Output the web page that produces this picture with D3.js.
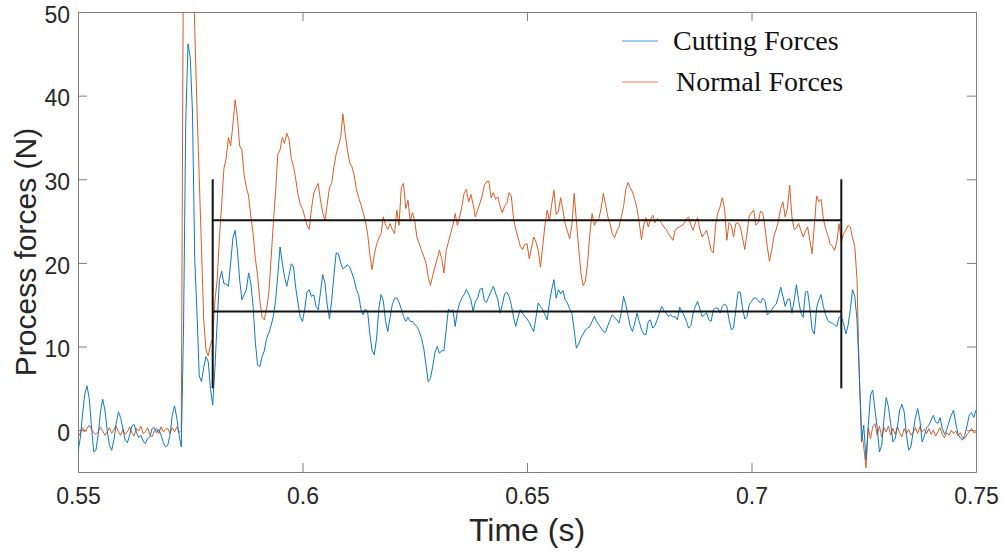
<!DOCTYPE html>
<html>
<head>
<meta charset="utf-8">
<title>Process forces</title>
<style>
  body { margin: 0; background: #fff; }
  svg text { font-family: "Liberation Sans", Arial, sans-serif; fill: #262626; }
  .legend text { font-family: "Liberation Serif", "Times New Roman", serif; fill: #111; }
</style>
</head>
<body>
<svg id="chart" width="1003" height="554"></svg>
<script src="https://cdn.jsdelivr.net/npm/d3@7"></script>
<script>
// sampling of both signals: t = t0 + i * dt
var t0 = 0.55
var dt = 0.0005

var cutting = [
  -2.5, -1.0, 1.8, 4.3, 5.3, 3.8, 0.5, -2.6, -2.4, -0.5, 2.2, 3.7, 2.4, 0, -1.8, -2.4, -1.2, 0.8, 2.2, 1.5,
  0.2, -1.2, -1.5, -0.6, 0.5, 0.7, -0.2, -0.9, -0.6, -1.3, -1.6, -1.0, -0.8, 0.2, 0.3, -0.3, 0.1, -0.6, -1.5, -2.0,
  -1.8, -0.5, 1.8, 2.9, 1.5, -0.5, -2.0, 12, 37, 46.2, 44.5, 38, 20.5, 14, 6.5, 5.8, 7.5, 8.8, 8.2, 5,
  3.0, 7.5, 13, 18, 19, 17.5, 17.5, 17.2, 20, 23, 23.9, 21.5, 18, 15.6, 16.2, 16.8, 18.8, 17.5, 14.8, 10.5,
  7.8, 7.6, 8.8, 9.5, 11, 11.6, 12.5, 13.6, 15.5, 18.5, 21.9, 20, 18.3, 17.2, 18.5, 19.9, 19.5, 17, 15.2, 13.5,
  13, 14.5, 16.5, 16.8, 16, 16.2, 14.8, 14.4, 16.5, 18.6, 17.6, 15, 13.3, 15.5, 18.5, 21.2, 21.1, 20, 19.3, 19.5,
  19.8, 19.5, 18.8, 18, 16.8, 16.2, 14.5, 13.8, 14.5, 14.2, 11.5, 9.5, 9.0, 11, 14.5, 16.2, 15.5, 13, 11.8, 13.5,
  15, 15.8, 15.8, 15.3, 14.5, 13.6, 13, 13.5, 13, 13, 12.6, 12.4, 11.8, 11, 9.8, 7.8, 5.8, 6.2, 7.6, 9.3,
  10, 9.2, 9.5, 9.5, 12, 14.5, 14.2, 14.4, 12.4, 14.2, 15.2, 15.8, 16.2, 16.8, 16.3, 15.6, 14.2, 15.4, 15.8, 16.8,
  17, 15.5, 15.3, 16, 16.6, 17.2, 16.4, 15.6, 14, 15, 16.3, 16.5, 16, 15, 13.5, 12.4, 13.5, 14.4, 14, 13.6,
  13.3, 12.9, 12.3, 11.8, 13.5, 15.2, 14.8, 14.4, 13.8, 13.2, 15.3, 16.8, 18, 15.8, 16.8, 16.3, 16.7, 15.6, 15.2, 14.5,
  14, 12, 9.8, 10.3, 11, 11.5, 12, 12.2, 12.4, 13, 13.6, 13, 12.6, 12.2, 11.8, 11.7, 12.5, 13.2, 13.8, 13.5,
  13.2, 12.8, 14, 16, 15, 13.7, 12.4, 11.8, 12.8, 14, 13, 12, 11.5, 11.4, 13, 13.2, 12.2, 12.5, 13.2, 14,
  14.8, 14.3, 14, 13.6, 13.8, 13.5, 13.6, 13.2, 14.7, 14.2, 13.7, 13, 12.2, 12.5, 14, 14.8, 15.4, 14.5, 13.6, 13.8,
  14, 13.2, 13, 14.4, 14.6, 14.6, 14, 14.8, 15.1, 14.8, 13.2, 12, 12.2, 14.4, 16.5, 16.5, 14.6, 13.3, 13.6, 15,
  15.4, 15.8, 15.8, 15.5, 15.2, 15.8, 15.5, 13.8, 14, 14.4, 14.8, 15.1, 16, 17.1, 16, 14.8, 15.6, 15.7, 14, 15.5,
  17.4, 15.5, 14, 13.5, 16.5, 16.6, 14.6, 12, 11.5, 14.6, 15.6, 16.2, 14.8, 13.8, 13.1, 12.9, 12.8, 12.6, 12.4, 13.5,
  13.6, 12.8, 11.5, 12.5, 14.4, 16.8, 16, 13.2, 7, -1.4, 0.6, -3.5, 0.4, 4.2, 4.8, 2.4, 0.3, -2.6, -1.8, 1.3,
  3.9, 2.8, 0.8, -1.4, -1.0, 0.4, 2.4, 3.1, 2.2, -0.5, -2.4, -2, -0.2, 1.5, 2.6, 1.2, -1.4, -0.7, 0.3, 0.6,
  1.2, 1.8, 1.0, 0.8, 1.5, 0.2, -0.5, 0.1, 1.0, 1.8, 2.4, 0.8, -0.5, -0.9, -1.2, -0.6, 0.5, 1.8, 2.1, 1.5,
  2.4
]

var normal = [
  -0.8, -0.4, 0.3, -0.2, 0.2, 0.6, 0.1, -0.3, -0.5, -0.2, 0.4, -0.1, -0.6, -0.2, 0.3, -0.4, 0.1, 0.5, -0.2, -0.6,
  0.1, -0.5, -0.2, 0.4, -0.3, -0.7, 0.2, -0.1, 0.5, -0.4, -0.2, 0.3, -0.5, -0.8, -0.1, 0.2, -0.4, 0.4, -0.2, 0.1,
  0.2, -0.4, 0.3, -0.2, 0.4, -0.3, 0, 60, 75, 80, 75, 62, 48, 38.5, 30.2, 21.7, 13.2, 9.6, 8.9, 10.2,
  11, 15.5, 18, 23, 27, 31.3, 32.5, 35, 34, 36.5, 39.5, 37.5, 34, 33.5, 30.5, 29, 28, 25.5, 23.5, 20.5,
  18.5, 15.5, 13.5, 13.2, 14.5, 16.4, 20.5, 24.7, 28.5, 33, 33.5, 35, 34.3, 35.5, 34.8, 32.5, 31.5, 30, 28.2, 27,
  26.5, 25.5, 24.5, 24, 26.5, 28.3, 29, 29.5, 27.5, 26, 25.1, 27, 29, 29.5, 31.5, 33, 34, 35, 37.8, 35.5,
  33.5, 32, 31.5, 30.5, 28.8, 27.8, 27, 26, 25, 23.5, 21, 19.2, 21, 22.2, 23, 23.5, 25.5, 24.5, 24, 24.7,
  24, 23.5, 26.3, 24.5, 29, 29.5, 26.5, 27.5, 25, 26, 25, 23, 22.3, 21.5, 20.8, 20, 18.3, 17.3, 18.5, 19.5,
  20.5, 21.5, 20.5, 18.8, 21.5, 22.5, 23.5, 24.5, 25.9, 24.5, 25.5, 26.8, 28.3, 28.8, 27.3, 28.2, 27, 25.5, 26.3, 27.1,
  28, 29.3, 29.7, 29.8, 27.8, 28.4, 27.6, 27.9, 26.8, 26, 26.8, 27.1, 28.4, 28, 25.3, 24, 23, 22, 21.6, 22.2,
  22.3, 20.5, 21.8, 23.1, 22.5, 21.5, 19.5, 22, 24.5, 26.3, 25, 27, 28.7, 25.8, 26.2, 27.8, 26.3, 24.7, 23.8, 22.9,
  24.5, 28.3, 25, 21.9, 18.8, 17.3, 17.8, 20, 23.5, 25.9, 24.5, 25, 25.3, 26.5, 28.3, 27, 25.5, 24.7, 23.5, 23,
  23.8, 24.3, 25.5, 26.7, 28.8, 29.6, 29, 28.5, 27.6, 26.5, 24.8, 22.8, 24.5, 25.4, 24.3, 25.2, 25.7, 24.8, 25.3, 25.1,
  24.7, 24.3, 24, 23.5, 23.1, 22.7, 23.9, 24.2, 24.3, 24.5, 24.7, 25.3, 25.5, 24.5, 23.9, 24.8, 25.4, 24, 23.1, 23.5,
  23.9, 22.8, 21.5, 21.2, 24.5, 26, 26.7, 27.8, 26.5, 22.7, 24.8, 24.5, 23.1, 24.7, 24.8, 24.3, 23, 21.6, 23.5, 25.6,
  26, 26.3, 24.5, 24.8, 26.2, 26, 24.3, 22, 20.2, 21.5, 23.2, 24, 25, 26.5, 27.3, 25.5, 26.5, 29.3, 25.5, 24,
  24.2, 24.7, 23.9, 23.1, 23.8, 24.3, 22.7, 21.1, 24.5, 28, 27.3, 27.6, 25.3, 24.1, 23.3, 22.3, 22, 21.5, 22.5, 24.7,
  22.5, 23.5, 23.9, 24.5, 24.3, 23, 22, 18, 6.5, 0.2, -2, -4.5, 0.3, -1.0, 0.4, 0.8, -0.6, 0.5, -0.8, 0.3,
  -0.2, 0.5, -0.6, 0.2, -0.5, 0.4, -0.3, -0.8, 0.2, -0.4, 0.1, -0.6, -0.3, 0.3, -0.4, 0.4, -0.2, 0.1, -0.4, 0.2,
  -0.5, 0, -0.7, -0.2, 0.3, -0.5, -0.9, -0.3, -0.6, 0, -0.4, -0.1, -0.7, -0.3, -0.9, -1.0, -0.5, -0.2, 0.2, -0.3,
  -0.2
]

var seriesNames = ['Cutting Forces', 'Normal Forces']
var xTicks = [0.55, 0.6, 0.65, 0.7, 0.75]
var yTicks = [0, 10, 20, 30, 40, 50]
// mean levels over the steady cutting window
var meanWindow = [0.58, 0.72]
var meanBracket = [5, 30]
var means = [14.2, 25.1]

var colors = ['#0072BD', '#D95319']
var width = 1003
var height = 554
var margin = {top: 12, right: 27, bottom: 82, left: 78}

var svg = d3.select('#chart')

var xScale = d3.scaleLinear()
  .domain([0.55, 0.75])
  .range([margin.left, width - margin.right])
var yScale = d3.scaleLinear()
  .domain([-5, 50])
  .range([height - margin.bottom, margin.top])

svg.append('defs').append('clipPath')
  .attr('id', 'plotClip')
  .append('rect')
  .attr('x', margin.left)
  .attr('y', margin.top)
  .attr('width', width - margin.left - margin.right)
  .attr('height', height - margin.top - margin.bottom)

function styleAxis(g) {
  g.select('.domain').attr('stroke', '#7f7f7f').attr('stroke-width', 1)
  g.selectAll('.tick line').attr('stroke', '#7f7f7f')
  g.selectAll('.tick text').attr('fill', '#262626').style('font-size', '23px')
}

// bottom / left axes with labels, ticks pointing inward
svg.append('g')
  .attr('transform', `translate(0,${height - margin.bottom})`)
  .call(d3.axisBottom(xScale).tickValues(xTicks).tickFormat(d3.format('')).tickSizeInner(-9).tickSizeOuter(0).tickPadding(16))
  .call(styleAxis)
svg.append('g')
  .attr('transform', `translate(${margin.left},0)`)
  .call(d3.axisLeft(yScale).tickValues(yTicks).tickSizeInner(-9).tickSizeOuter(0).tickPadding(8))
  .call(styleAxis)
  .selectAll('.tick text').attr('dy', '0.45em')
// top / right box with ticks only
svg.append('g')
  .attr('transform', `translate(0,${margin.top})`)
  .call(d3.axisTop(xScale).tickValues(xTicks).tickFormat('').tickSizeInner(-9).tickSizeOuter(0))
  .call(styleAxis)
svg.append('g')
  .attr('transform', `translate(${width - margin.right},0)`)
  .call(d3.axisRight(yScale).tickValues(yTicks).tickFormat('').tickSizeInner(-9).tickSizeOuter(0))
  .call(styleAxis)

var line = d3.line()
  .x(function(d, i) { return xScale(t0 + i * dt) })
  .y(function(d) { return yScale(d) })

var plot = svg.append('g').attr('clip-path', 'url(#plotClip)')
plot.selectAll('path.series')
  .data([normal, cutting])
  .enter()
  .append('path')
  .attr('class', 'series')
  .attr('fill', 'none')
  .attr('stroke', function(d, i) { return i === 0 ? colors[1] : colors[0] })
  .attr('stroke-width', 0.95)
  .attr('stroke-linejoin', 'round')
  .attr('d', line)

// mean bracket lines
var meanG = svg.append('g')
meanG.selectAll('line.h')
  .data(means)
  .enter()
  .append('line')
  .attr('x1', xScale(meanWindow[0]))
  .attr('x2', xScale(meanWindow[1]))
  .attr('y1', function(d) { return yScale(d) })
  .attr('y2', function(d) { return yScale(d) })
  .attr('stroke', '#111')
  .attr('stroke-width', 2)
meanG.selectAll('line.v')
  .data(meanWindow)
  .enter()
  .append('line')
  .attr('x1', function(d) { return xScale(d) })
  .attr('x2', function(d) { return xScale(d) })
  .attr('y1', yScale(meanBracket[0]))
  .attr('y2', yScale(meanBracket[1]))
  .attr('stroke', '#111')
  .attr('stroke-width', 2)

// legend
var legend = svg.append('g').attr('class', 'legend')
var items = legend.selectAll('g')
  .data(seriesNames)
  .enter()
  .append('g')
  .attr('transform', function(d, i) { return `translate(622,${41 + i * 41})` })
items.append('line')
  .attr('x1', 0).attr('x2', 36)
  .attr('stroke', function(d, i) { return colors[i] })
  .attr('stroke-opacity', 0.7)
  .attr('stroke-width', 1.2)
items.append('text')
  .attr('x', function(d, i) { return i === 0 ? 51 : 54 })
  .attr('y', 9)
  .style('font-size', '28px')
  .text(function(d) { return d })

// axis titles
svg.append('text')
  .attr('x', (margin.left + width - margin.right) / 2)
  .attr('y', 541)
  .attr('text-anchor', 'middle')
  .style('font-size', '32px')
  .text('Time (s)')
svg.append('text')
  .attr('transform', 'translate(36,252) rotate(-90)')
  .attr('text-anchor', 'middle')
  .style('font-size', '30px')
  .text('Process forces (N)')
</script>
</body>
</html>
